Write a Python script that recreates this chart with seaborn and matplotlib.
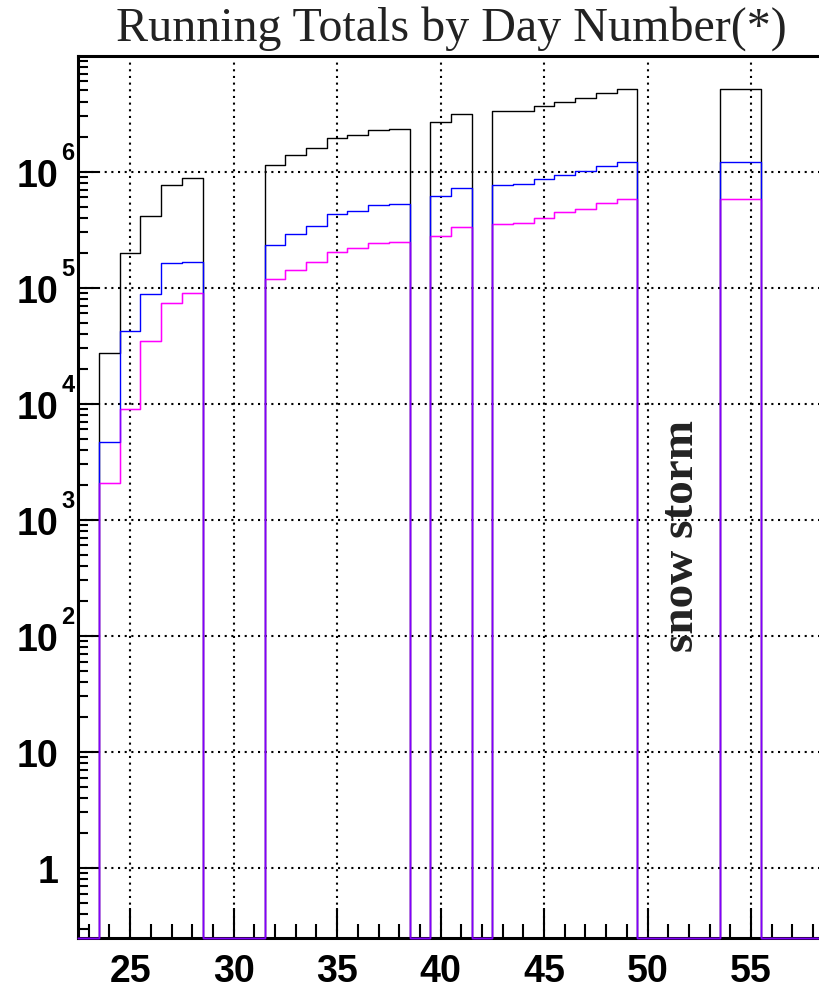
import numpy as np
import matplotlib
matplotlib.use('Agg')
import matplotlib.pyplot as plt
import matplotlib.ticker as mticker
import seaborn as sns

# day number bins (width 1, centred on the integer day)
days = list(range(23, 59))

total = [0, 2.73e4, 2.00e5, 4.15e5, 7.64e5, 8.88e5, 0, 0, 0,
         1.14e6, 1.38e6, 1.59e6, 1.94e6, 2.06e6, 2.28e6, 2.32e6, 0,
         2.66e6, 3.12e6, 0,
         3.31e6, 3.35e6, 3.68e6, 4.01e6, 4.34e6, 4.76e6, 5.13e6,
         0, 0, 0, 0, 5.13e6, 5.19e6, 0, 0, 0]
blue_vals = [0, 4.7e3, 4.19e4, 8.85e4, 1.64e5, 1.65e5, 0, 0, 0,
             2.31e5, 2.89e5, 3.43e5, 4.30e5, 4.61e5, 5.20e5, 5.30e5, 0,
             6.14e5, 7.24e5, 0,
             7.73e5, 7.83e5, 8.61e5, 9.42e5, 1.01e6, 1.11e6, 1.20e6,
             0, 0, 0, 0, 1.20e6, 1.22e6, 0, 0, 0]
magenta_vals = [0, 2.08e3, 9.0e3, 3.46e4, 7.35e4, 8.96e4, 0, 0, 0,
                1.18e5, 1.43e5, 1.67e5, 2.02e5, 2.19e5, 2.42e5, 2.47e5, 0,
                2.81e5, 3.36e5, 0,
                3.56e5, 3.62e5, 4.02e5, 4.44e5, 4.80e5, 5.35e5, 5.78e5,
                0, 0, 0, 0, 5.76e5, 5.85e5, 0, 0, 0]

ytick_vals = [1, 10, 1e2, 1e3, 1e4, 1e5, 1e6]
ytick_base = ['1', '10', '10', '10', '10', '10', '10']
ytick_exp = ['', '', '2', '3', '4', '5', '6']
xtick_vals = [25, 30, 35, 40, 45, 50, 55]

YMIN, YMAX = 0.25, 9.9e6

plt.rcParams['font.family'] = ['Liberation Sans', 'DejaVu Sans']

fig = plt.figure(figsize=(8.2, 9.9), dpi=100)
ax = fig.add_axes([0.0956, 0.0528, 0.9087, 0.8906])
ax.set_yscale('log')

edges = np.array(days + [days[-1] + 1]) - 0.5


def step(vals, color, **kw):
    v = np.where(np.array(vals) > 0, vals, YMIN)  # empty bins sit on the floor
    y = np.append(v, v[-1])
    sns.lineplot(x=edges, y=y, drawstyle='steps-post', color=color,
                 clip_on=False, zorder=3, ax=ax, **kw)


step(total, 'black', lw=1.0)
step(magenta_vals, '#ff00ff', lw=1.0)
step(blue_vals, '#0000ff', lw=1.0)
step(magenta_vals, '#ff00ff', lw=1.0, alpha=0.5)  # overlap turns purple

ax.set_xlim(22.5, 58.5)
ax.set_ylim(YMIN, YMAX)
ax.set_xlabel('')
ax.set_ylabel('')

ax.set_xticks(xtick_vals, [str(t) for t in xtick_vals], fontsize=27, fontweight='bold')
ax.xaxis.set_minor_locator(mticker.MultipleLocator(1))
ax.set_yticks(ytick_vals, [''] * len(ytick_vals))
ax.yaxis.set_minor_locator(mticker.LogLocator(base=10, subs=np.arange(2, 10), numticks=20))
ax.yaxis.set_minor_formatter(mticker.NullFormatter())

# ROOT style log labels: "10" right aligned, small exponent tucked above
for v, base, ex in zip(ytick_vals, ytick_base, ytick_exp):
    ax.annotate(base, xy=(0, v), xycoords=('axes fraction', 'data'),
                xytext=(-20, -5), textcoords='offset pixels',
                ha='right', va='center', fontsize=27, fontweight='bold')
    if ex:
        ax.annotate(ex, xy=(0, v), xycoords=('axes fraction', 'data'),
                    xytext=(-17, 12), textcoords='offset pixels',
                    ha='left', va='baseline', fontsize=17, fontweight='bold')

ax.tick_params(axis='x', which='major', direction='in', length=21.6, width=1.5, pad=12)
ax.tick_params(axis='x', which='minor', direction='in', length=10, width=1.5)
ax.tick_params(axis='y', which='major', direction='in', length=14.4, width=1.5)
ax.tick_params(axis='y', which='minor', direction='in', length=7.2, width=1.5)

ax.grid(which='major', color='black', ls=(0, (1, 2.2)), lw=1.5)
for s in ['left', 'bottom', 'top']:
    ax.spines[s].set_linewidth(2.2)
ax.spines['right'].set_visible(False)

ax.set_title('Running Totals by Day Number(*)', family='Liberation Serif',
             fontsize=34.6, color='#222222', pad=11)
ax.text(51.65, 730, 'snow storm', rotation=90, ha='center', va='center',
        family='Liberation Serif', fontsize=34, fontweight='bold', color='#222222')

fig.savefig('out.png', dpi=100)
